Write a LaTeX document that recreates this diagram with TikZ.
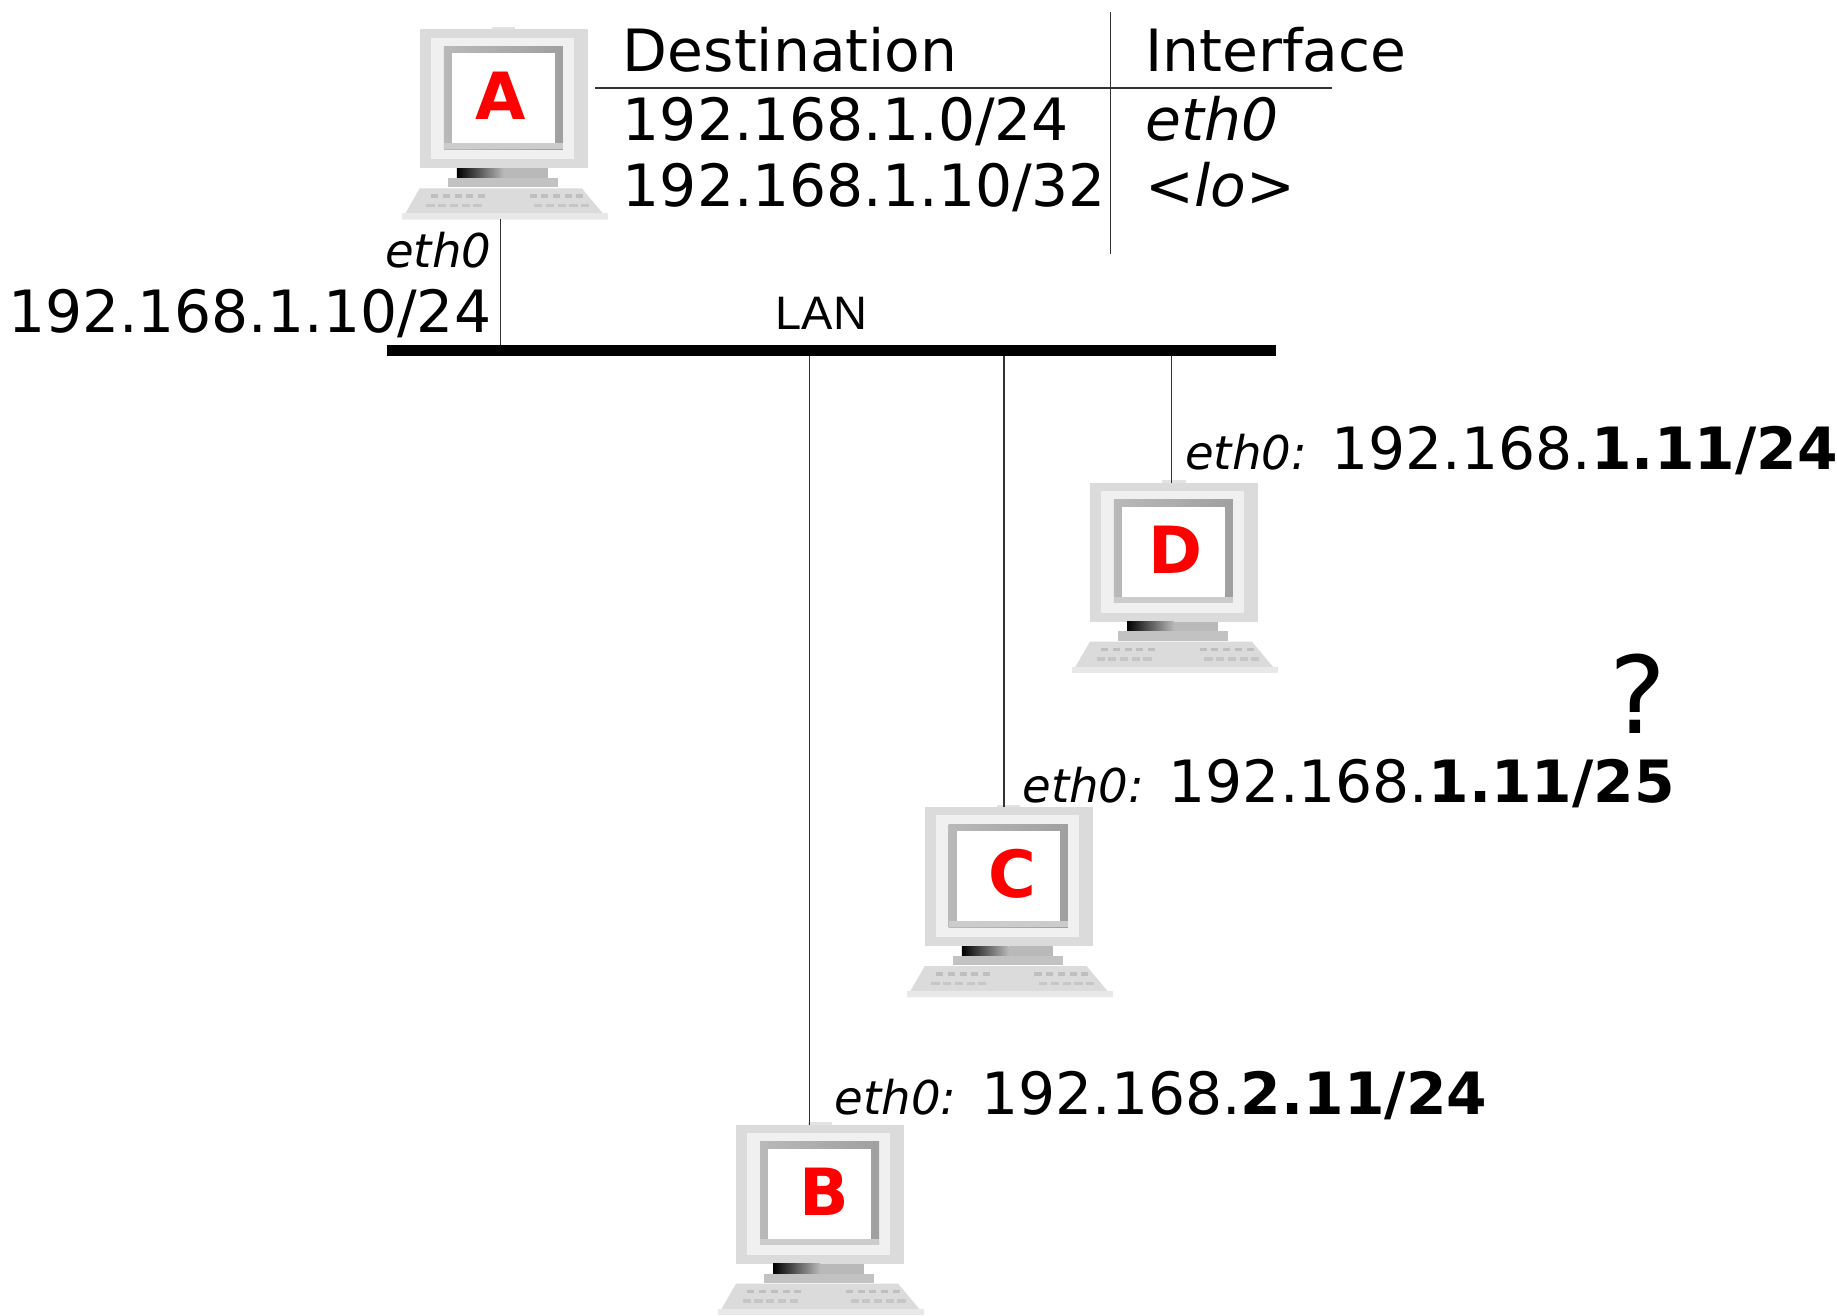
\documentclass[tikz,border=0pt]{standalone}
\usepackage{fontspec}
\setmainfont{DejaVu Sans}
\newfontfamily\arialfont{Liberation Sans}
\newcommand\portname[1]{{\fontsize{11.3}{13}\selectfont\itshape #1}}

\begin{document}
\begin{tikzpicture}[
    x=0.01cm, y=-0.01cm,
    case/.style={fill=gray!28},
    wire/.style={black!80, line width=0.35pt},
    bus/.style={black, line width=2.7pt},
    rule/.style={black!80, line width=0.35pt},
    txt/.style={inner sep=0pt, font=\fontsize{14.15}{17}\selectfont},
    lanlabel/.style={inner sep=0pt, font=\arialfont\fontsize{11.4}{13}\selectfont},
    hostletter/.style={inner sep=0pt, text=red, font=\bfseries\fontsize{15.8}{18}\selectfont},
    pics/computer/.style n args={2}{code={
        % housing
        \fill[gray!22] (-10,-2) rectangle (10,0);
        \fill[case] (-71.7,0) rectangle (71.7,118.6);
        \fill[gray!12] (-62,7) rectangle (60,111);
        \shade[left color=gray!55, right color=gray!75] (-51.2,14.5) rectangle (50.4,102.4);
        \fill[gray!40] (-51.2,97.3) rectangle (50.4,102.4);
        \fill[white] (-44.4,20.5) rectangle (43.5,97.3);
        \node[hostletter] (-name) at (#2,57) {#1};
        % stand
        \shade[left color=black, right color=gray!55] (-40,118.6) rectangle (0,127);
        \fill[gray!55] (0,118.6) rectangle (37.5,127);
        \fill[gray!48] (-47.8,127) rectangle (46.1,134.9);
        % keyboard
        \fill[case] (-71.7,135.7) -- (66.6,135.7) -- (88.8,162.2) -- (-87,162.2) -- cycle;
        \fill[gray!18] (-87,157) -- (88.8,157) -- (88.8,162.2) -- (-87,162.2) -- cycle;
        \foreach \kx in {-62,-52,...,-22}{
            \fill[gray!50] (\kx,141) rectangle ++(6,3);
            \fill[gray!45] (\kx-4,149) rectangle ++(7,3);
        }
        \foreach \kx in {22,32,...,62}{
            \fill[gray!50] (\kx,141) rectangle ++(6,3);
            \fill[gray!45] (\kx+4,149) rectangle ++(7,3);
        }
        \coordinate (-top) at (0,0);
        \coordinate (-bottom) at (0,162.2);
    }}
    ]
    \useasboundingbox (0,0) rectangle (1568,1123);

    % hosts
    \pic (A) at (430,25) {computer={A}{-3}};
    \pic (D) at (1002,412) {computer={D}{1}};
    \pic (C) at (861,689) {computer={C}{3}};
    \pic (B) at (700,960) {computer={B}{4}};

    % the LAN segment and its taps
    \coordinate (lanL) at (330,299);
    \coordinate (lanR) at (1089,299);
    \coordinate (tapA) at (427,299);
    \coordinate (tapB) at (691,299);
    \coordinate (tapC) at (857,299);
    \coordinate (tapD) at (1000,299);
    \draw[wire] (tapA) -- (tapA |- A-bottom);
    \draw[wire] (tapB) -- (tapB |- B-top);
    \draw[wire] (tapC) -- (tapC |- C-top);
    \draw[wire] (tapD) -- (tapD |- D-top);
    \draw[bus] (lanL) -- (lanR);
    \node[lanlabel, anchor=base] (lan) at (701,281) {LAN};

    % routing table of A
    \draw[rule] (508,75) -- (1137,75);
    \draw[rule] (948,10) -- (948,217);
    \node[txt, anchor=base west] (dest) at (531,61) {Destination};
    \node[txt, anchor=base west] (iface) at (977,61) {Interface};
    \node[txt, anchor=base west] (dest1) at (531,120) {192.168.1.0/24};
    \node[txt, anchor=base west] (iface1) at (977,120) {\itshape eth0};
    \node[txt, anchor=base west] (dest2) at (531,176) {192.168.1.10/32};
    \node[txt, anchor=base west] (iface2) at (977,176) {\itshape <lo>};

    % addresses
    \node[txt, anchor=base east] (ethA) at (420,228) {\portname{eth0}};
    \node[txt, anchor=base east] (ipA) at (420,284) {192.168.1.10/24};
    \node[txt, anchor=base west] (ipD) at (1011,401) {\portname{eth0:} 192.168.\textbf{1.11/24}};
    \node[txt, anchor=base west] (ipC) at (872,685) {\portname{eth0:} 192.168.\textbf{1.11/25}};
    \node[txt, anchor=base west] (ipB) at (712,951) {\portname{eth0:} 192.168.\textbf{2.11/24}};
    \node[inner sep=0pt, font=\fontsize{26}{30}\selectfont] (ask) at (1398,592) {?};
\end{tikzpicture}
\end{document}
